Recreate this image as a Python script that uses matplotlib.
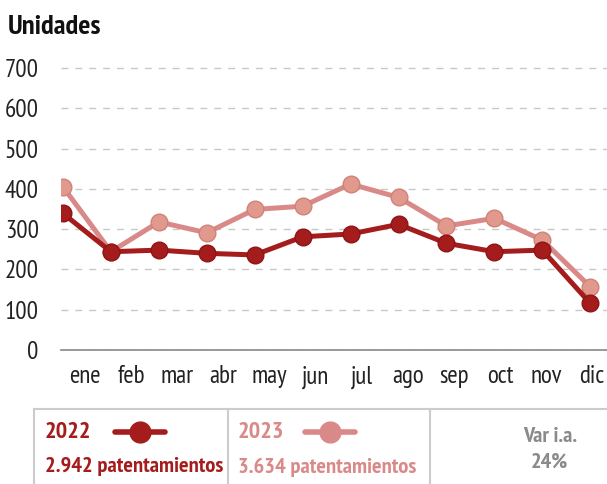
import numpy as np
import matplotlib.pyplot as plt
from matplotlib.lines import Line2D
from matplotlib.patches import Rectangle

plt.rcParams['font.family'] = ['PT Sans Narrow', 'Fira Sans Condensed', 'DejaVu Sans']

# Data
meses = ["ene", "feb", "mar", "abr", "may", "jun", "jul", "ago", "sep", "oct", "nov", "dic"]
v2022 = [339, 244, 248, 240, 236, 281, 288, 312, 265, 244, 248, 116]
v2023 = [405, 244, 318, 291, 349, 357, 412, 379, 308, 327, 273, 157]
total_2022 = "2.942 patentamientos"
total_2023 = "3.634 patentamientos"
var_ia = "24%"

c22 = "#a51c1c"
c23 = "#d98a88"
grey = "#8a8a8a"

W, H = 607, 484
fig = plt.figure(figsize=(W / 100, H / 100), dpi=100)
ax = fig.add_axes([61 / W, 1 - 350 / H, (W - 61) / W, 290 / H])

x = np.arange(len(meses))
ax.plot(x, v2022, color=c22, lw=3.6, marker="o", ms=12, mfc=c22, mec="#8e1515", mew=1, zorder=4)
ax.plot(x, v2023, color=c23, lw=3.6, marker="o", ms=12, mfc="#e0998c", mec="#d08278", mew=1, zorder=3)

ax.set_xlim(-0.042, 11.35)
ax.set_ylim(0, 720)
ax.set_yticks(range(0, 701, 100))
ax.yaxis.grid(True, color="#c8c8c8", ls=(0, (5, 5)), lw=1)
ax.set_axisbelow(True)
# month labels sit on a slightly different spacing than the points
ax.set_xticks(0.46 + 0.962 * x)
ax.set_xticklabels(meses)
ax.tick_params(axis="both", length=0, labelsize=18, colors="#222222")
ax.tick_params(axis="y", pad=16)
ax.tick_params(axis="x", pad=11)
for s in ["top", "right", "left"]:
    ax.spines[s].set_visible(False)
ax.spines["bottom"].set_color("#888888")
ax.spines["bottom"].set_linewidth(1.2)

fig.text(8 / W, 1 - 27 / H, "Unidades", fontsize=20.5, fontweight="bold", va="center", ha="left", color="#111111")

# Legend box
def fx(px):
    return px / W

def fy(py):
    return 1 - py / H

fig.add_artist(Rectangle((fx(34), fy(490)), fx(607) - fx(34) + 0.01, fy(409) - fy(490),
                         transform=fig.transFigure, fill=False, ec="#cccccc", lw=1.5))
for dx in [228, 430]:
    fig.add_artist(Line2D([fx(dx), fx(dx)], [fy(409), fy(484)], transform=fig.transFigure, color="#cccccc", lw=1.5))

fig.text(fx(45), fy(433), "2022", fontsize=17.5, fontweight="bold", color=c22, va="center")
fig.add_artist(Line2D([fx(115), fx(165)], [fy(432), fy(432)], transform=fig.transFigure,
                      color=c22, lw=4, solid_capstyle="round"))
fig.add_artist(Line2D([fx(140)], [fy(432)], transform=fig.transFigure, color=c22, marker="o", ms=15, lw=0))
fig.text(fx(45), fy(467), total_2022, fontsize=16.2, fontweight="bold", color=c22, va="center")

fig.text(fx(238), fy(433), "2023", fontsize=17.5, fontweight="bold", color=c23, va="center")
fig.add_artist(Line2D([fx(305), fx(355)], [fy(432), fy(432)], transform=fig.transFigure,
                      color=c23, lw=4, solid_capstyle="round"))
fig.add_artist(Line2D([fx(330)], [fy(432)], transform=fig.transFigure, color=c23, marker="o", ms=15, lw=0))
fig.text(fx(238), fy(467), total_2023, fontsize=16.2, fontweight="bold", color=c23, va="center")

fig.text(fx(550), fy(437), "Var i.a.", fontsize=16, fontweight="bold", color=grey, va="center", ha="center")
fig.text(fx(549), fy(462), var_ia, fontsize=16, fontweight="bold", color=grey, va="center", ha="center")

fig.savefig("out.png", dpi=100)
